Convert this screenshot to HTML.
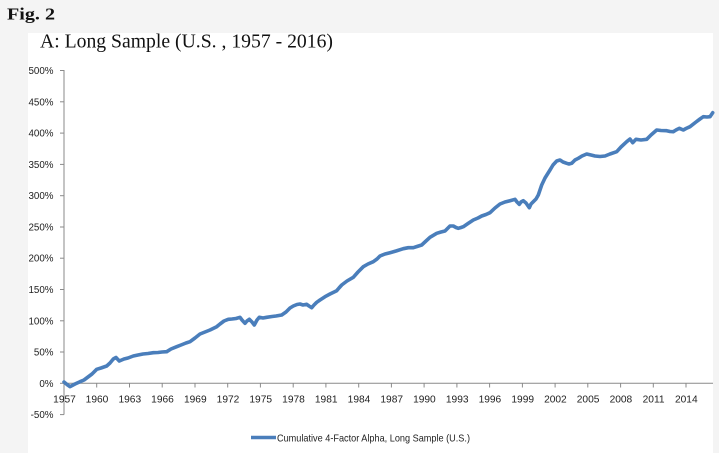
<!DOCTYPE html>
<html><head><meta charset="utf-8"><style>
html,body{margin:0;padding:0;background:#f4f4f4;}
svg{display:block;}
</style></head><body>
<svg width="719" height="453" viewBox="0 0 719 453" xmlns="http://www.w3.org/2000/svg">
<rect x="0" y="0" width="719" height="453" fill="#f4f4f4"/>
<rect x="28" y="33" width="685" height="420" fill="#ffffff"/>
<text x="7" y="19.5" font-family="Liberation Serif, serif" font-weight="bold" font-size="17" fill="#111" textLength="48" lengthAdjust="spacingAndGlyphs">Fig. 2</text>
<text x="40" y="47.5" font-family="Liberation Serif, serif" font-size="20" fill="#111" textLength="293" lengthAdjust="spacingAndGlyphs">A: Long Sample (U.S. , 1957 - 2016)</text>
<g stroke="#8a8a8a" stroke-width="1" fill="none">
<line x1="64" y1="70" x2="64" y2="414.6"/>
<line x1="64" y1="383.3" x2="713" y2="383.3"/>
<line x1="60" y1="70.5" x2="64" y2="70.5"/>
<line x1="60" y1="101.8" x2="64" y2="101.8"/>
<line x1="60" y1="133.1" x2="64" y2="133.1"/>
<line x1="60" y1="164.4" x2="64" y2="164.4"/>
<line x1="60" y1="195.7" x2="64" y2="195.7"/>
<line x1="60" y1="227" x2="64" y2="227"/>
<line x1="60" y1="258.2" x2="64" y2="258.2"/>
<line x1="60" y1="289.5" x2="64" y2="289.5"/>
<line x1="60" y1="320.8" x2="64" y2="320.8"/>
<line x1="60" y1="352" x2="64" y2="352"/>
<line x1="60" y1="383.3" x2="64" y2="383.3"/>
<line x1="60" y1="414.6" x2="64" y2="414.6"/>
<line x1="96.7" y1="383.3" x2="96.7" y2="387.5"/>
<line x1="129.5" y1="383.3" x2="129.5" y2="387.5"/>
<line x1="162.2" y1="383.3" x2="162.2" y2="387.5"/>
<line x1="195" y1="383.3" x2="195" y2="387.5"/>
<line x1="227.7" y1="383.3" x2="227.7" y2="387.5"/>
<line x1="260.4" y1="383.3" x2="260.4" y2="387.5"/>
<line x1="293.2" y1="383.3" x2="293.2" y2="387.5"/>
<line x1="325.9" y1="383.3" x2="325.9" y2="387.5"/>
<line x1="358.7" y1="383.3" x2="358.7" y2="387.5"/>
<line x1="391.4" y1="383.3" x2="391.4" y2="387.5"/>
<line x1="424.1" y1="383.3" x2="424.1" y2="387.5"/>
<line x1="456.9" y1="383.3" x2="456.9" y2="387.5"/>
<line x1="489.6" y1="383.3" x2="489.6" y2="387.5"/>
<line x1="522.4" y1="383.3" x2="522.4" y2="387.5"/>
<line x1="555.1" y1="383.3" x2="555.1" y2="387.5"/>
<line x1="587.8" y1="383.3" x2="587.8" y2="387.5"/>
<line x1="620.6" y1="383.3" x2="620.6" y2="387.5"/>
<line x1="653.3" y1="383.3" x2="653.3" y2="387.5"/>
<line x1="686" y1="383.3" x2="686" y2="387.5"/>
</g>
<g font-family="Liberation Sans, sans-serif" font-size="9.8" fill="#222" text-anchor="end">
<text x="53.5" y="74">500%</text>
<text x="53.5" y="105.3">450%</text>
<text x="53.5" y="136.6">400%</text>
<text x="53.5" y="167.9">350%</text>
<text x="53.5" y="199.2">300%</text>
<text x="53.5" y="230.5">250%</text>
<text x="53.5" y="261.7">200%</text>
<text x="53.5" y="293">150%</text>
<text x="53.5" y="324.3">100%</text>
<text x="53.5" y="355.5">50%</text>
<text x="53.5" y="386.8">0%</text>
<text x="53.5" y="418.1">-50%</text>
</g>
<g font-family="Liberation Sans, sans-serif" font-size="10.2" fill="#222" text-anchor="middle">
<text x="64.5" y="402.5">1957</text>
<text x="97" y="402.5">1960</text>
<text x="129.8" y="402.5">1963</text>
<text x="162.5" y="402.5">1966</text>
<text x="195.3" y="402.5">1969</text>
<text x="228" y="402.5">1972</text>
<text x="260.7" y="402.5">1975</text>
<text x="293.5" y="402.5">1978</text>
<text x="326.2" y="402.5">1981</text>
<text x="359" y="402.5">1984</text>
<text x="391.7" y="402.5">1987</text>
<text x="424.4" y="402.5">1990</text>
<text x="457.2" y="402.5">1993</text>
<text x="489.9" y="402.5">1996</text>
<text x="522.7" y="402.5">1999</text>
<text x="555.4" y="402.5">2002</text>
<text x="588.1" y="402.5">2005</text>
<text x="620.9" y="402.5">2008</text>
<text x="653.6" y="402.5">2011</text>
<text x="686.3" y="402.5">2014</text>
</g>
<polyline fill="none" stroke="#4a7ebb" stroke-width="3.6" stroke-linejoin="round" stroke-linecap="round" points="64,382 67,384.5 70,386.7 75,384 80,381.7 84,380 88,377 92,374 96.7,369.3 101,368 106.7,366 110,363 113.3,359 116,357.5 119.3,361 124,359 128,358 133.3,356 138,355 143,354 148,353.5 153.3,352.7 158,352.5 162,352 166.7,351.7 171,349 176.7,346.7 181,345 186,343 190,341.7 195,338 200,334 205,332 210,330 216.7,326.7 220,324 224,321 228.3,319.3 232,319 236,318.5 240,317.3 242,320 245,323.3 247,321 249.3,319.3 252,322 254.3,325 257,320 259.3,317.3 263,318 266.7,317.3 272,316.5 276,316 281.7,315 286,312 290,308 293.3,306 297,304.5 300,304 303,305 306.7,304.3 309,306 311.7,307.7 314,305 316.7,302.3 320,300 325,296.7 330,294 336.7,290.7 339,288 341.7,285 347,281 353.3,277.3 358,272 363.3,266.7 368,264 373.3,261.7 377,259 380,256 385,254 390,252.7 396,251 403.3,248.7 408.3,247.7 413.3,247.7 417,246.5 421.7,245 426,241 430,237.3 436.7,233.3 441,232 445,231 448,228 450,226 453.3,226 456,227.5 458.3,228.3 461,227.5 463.3,226.7 468,223.5 473.3,220 478,218 481.7,216 486,214.5 490,212.7 495,208 500,204 505,202 510,200.7 515,199.3 517,202 519.3,204.3 521,202 523.3,200.7 526,203 529.3,207.7 531,204 533.3,201.7 536,199 538.3,195 540,190 541.7,185 545,178 550,170 553,165 556.7,161 560,160 563,162 566.7,163.3 569,164 571.7,163.3 575,160 578.3,158.3 582,156 586.7,154 591,155 595,156 600,156.5 605,156 610,154 616.7,151.7 621,147 626.7,141.7 630,139 632.7,142.7 636,139.3 641,140 646.7,139.3 651,135 656.7,130 661,130.5 666.7,130.7 670,131.5 673.3,131.7 676,130 679.3,128.3 683.3,130 686,128.5 690,126.7 696,122 700,119 703.3,116.7 707,117 710,116.7 712.7,112.7"/>
<line x1="251" y1="437.5" x2="276" y2="437.5" stroke="#4a7ebb" stroke-width="3.4"/>
<text x="277" y="441.3" font-family="Liberation Sans, sans-serif" font-size="10.5" fill="#222" textLength="193" lengthAdjust="spacingAndGlyphs">Cumulative 4-Factor Alpha, Long Sample (U.S.)</text>
</svg>
</body></html>
